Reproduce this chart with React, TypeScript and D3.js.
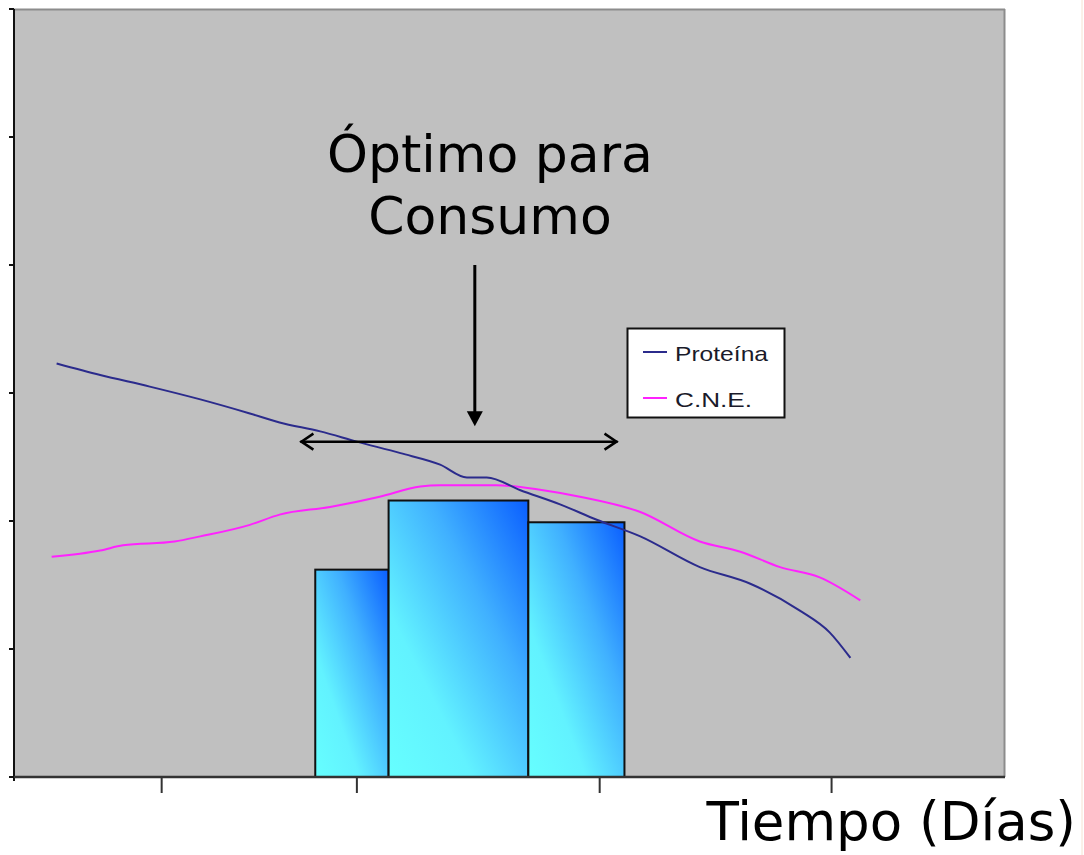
import React from "react";
import * as d3 from "d3";

// ---- data (x in "días" units 0..100, y in arbitrary units 0..6) ----
const proteinaX = [4.3, 8.7, 13.7, 18.8, 23.8, 26.8, 30.9, 34.6, 39.0, 43.0, 45.7, 47.7, 51.1, 55.1, 58.8, 63.2, 69.2, 74.3, 79.3, 82.3, 84.4];
const proteinaY = [3.23, 3.14, 3.05, 2.95, 2.84, 2.77, 2.70, 2.62, 2.53, 2.44, 2.34, 2.34, 2.24, 2.13, 2.01, 1.88, 1.64, 1.51, 1.30, 1.13, 0.93];

const cneX = [3.8, 8.7, 11.0, 16.2, 18.8, 23.8, 26.8, 31.9, 36.9, 41.0, 43.0, 48.7, 53.4, 57.1, 63.2, 69.2, 73.3, 77.3, 81.3, 85.4];
const cneY = [1.72, 1.77, 1.81, 1.84, 1.88, 1.97, 2.05, 2.11, 2.19, 2.27, 2.28, 2.28, 2.24, 2.19, 2.07, 1.84, 1.76, 1.64, 1.56, 1.38];

const barStart = [30.4, 37.8, 51.9];
const barEnd = [37.8, 51.9, 61.6];
const barValue = [1.62, 2.16, 1.99];

const xTicks = [14.9, 34.6, 59.1, 82.5];
const yTicks = [0, 1, 2, 3, 4, 5, 6];

const legendLabels = ["Proteína", "C.N.E."];
const legendColors = ["#2b2b8c", "#ff22ff"];

const titleLines = ["Óptimo para", "Consumo"];
const xAxisTitle = "Tiempo (Días)";

// optimum range shown by the double arrow (x units) and the pointer arrow
const optimumRange = [28.9, 60.9];
const optimumY = 2.62;
const pointerX = 46.5;
const pointerTop = 4.00;
const pointerBottom = 2.74;

export default function App() {
  const W = 1084, H = 855;
  const left = 14, right = 1005, top = 9, bottom = 777;
  const x = d3.scaleLinear().domain([0, 100]).range([left, right]);
  const y = d3.scaleLinear().domain([0, 6]).range([bottom, top]);

  const line = d3.line<[number, number]>().x(d => x(d[0])).y(d => y(d[1])).curve(d3.curveMonotoneX);
  const protPts = proteinaX.map((v, i) => [v, proteinaY[i]] as [number, number]);
  const cnePts = cneX.map((v, i) => [v, cneY[i]] as [number, number]);

  const hx1 = x(optimumRange[0]), hx2 = x(optimumRange[1]), hy = y(optimumY);
  const px = x(pointerX), pTop = y(pointerTop), pTip = y(pointerBottom);

  const font = "'DejaVu Sans', Verdana, sans-serif";
  const legendFont = "'Liberation Sans', Arial, sans-serif";

  return (
    <svg width={W} height={H} style={{ position: "absolute", left: 0, top: 0, background: "#fff" }}>
      <defs>
        <linearGradient id="barGrad" x1="0" y1="1" x2="1" y2="0">
          <stop offset="0" stopColor="#66ffff" />
          <stop offset="0.3" stopColor="#62f2ff" />
          <stop offset="0.65" stopColor="#40b0ff" />
          <stop offset="1" stopColor="#0a5eff" />
        </linearGradient>
      </defs>
      <line x1={1082} y1={0} x2={1082} y2={H} stroke="#f6e2d2" strokeWidth={1} />
      {/* plot background */}
      <rect x={left} y={top} width={right - left} height={bottom - top} fill="#c0c0c0" />
      <line x1={left} y1={top + 0.5} x2={right} y2={top + 0.5} stroke="#8c8c8c" strokeWidth={2} />
      <line x1={right - 0.5} y1={top} x2={right - 0.5} y2={bottom} stroke="#8c8c8c" strokeWidth={2} />

      {/* bars */}
      {barValue.map((v, i) => (
        <rect key={i} x={x(barStart[i])} y={y(v)} width={x(barEnd[i]) - x(barStart[i])} height={y(0) - y(v)}
          fill="url(#barGrad)" stroke="#111" strokeWidth={2} />
      ))}

      {/* lines */}
      <path d={line(cnePts) || ""} fill="none" stroke={legendColors[1]} strokeWidth={2} />
      <path d={line(protPts) || ""} fill="none" stroke={legendColors[0]} strokeWidth={2} />

      {/* axes */}
      <line x1={left} y1={top} x2={left} y2={bottom + 4} stroke="#111" strokeWidth={2} />
      <line x1={left} y1={bottom} x2={right} y2={bottom} stroke="#333" strokeWidth={2.5} />
      {yTicks.map(t => (
        <line key={t} x1={left - 5} x2={left} y1={y(t)} y2={y(t)} stroke="#111" strokeWidth={2} />
      ))}
      {xTicks.map(t => (
        <line key={t} x1={x(t)} x2={x(t)} y1={bottom} y2={bottom + 16} stroke="#333" strokeWidth={2} />
      ))}

      {/* double arrow */}
      <line x1={hx1} y1={hy} x2={hx2} y2={hy} stroke="#000" strokeWidth={2.5} />
      <polyline points={`${hx1 + 13},${hy - 8} ${hx1 + 1},${hy} ${hx1 + 13},${hy + 8}`} fill="none" stroke="#000" strokeWidth={2.5} />
      <polyline points={`${hx2 - 13},${hy - 8} ${hx2 - 1},${hy} ${hx2 - 13},${hy + 8}`} fill="none" stroke="#000" strokeWidth={2.5} />

      {/* pointer arrow */}
      <line x1={px} y1={pTop} x2={px} y2={pTip - 12} stroke="#000" strokeWidth={3} />
      <polygon points={`${px - 8},${pTip - 15} ${px + 8},${pTip - 15} ${px},${pTip}`} fill="#000" />

      {/* title */}
      {titleLines.map((t, i) => (
        <text key={i} x={490} y={172 + i * 62} textAnchor="middle" fontFamily={font} fontSize={52} fill="#000">{t}</text>
      ))}

      {/* legend */}
      <rect x={627.5} y={328.5} width={157} height={89} fill="#fff" stroke="#111" strokeWidth={2} />
      {legendLabels.map((l, i) => (
        <g key={l}>
          <line x1={643} x2={667} y1={352 + i * 46} y2={352 + i * 46} stroke={legendColors[i]} strokeWidth={2} />
          <text x={675} y={361 + i * 46} fontFamily={legendFont} fontSize={21} fill="#1a1a2a"
            textLength={i === 0 ? 93 : 77} lengthAdjust="spacingAndGlyphs">{l}</text>
        </g>
      ))}

      {/* x axis title */}
      <text x={1076} y={840} textAnchor="end" fontFamily={font} fontSize={53} fill="#000">{xAxisTitle}</text>
    </svg>
  );
}
